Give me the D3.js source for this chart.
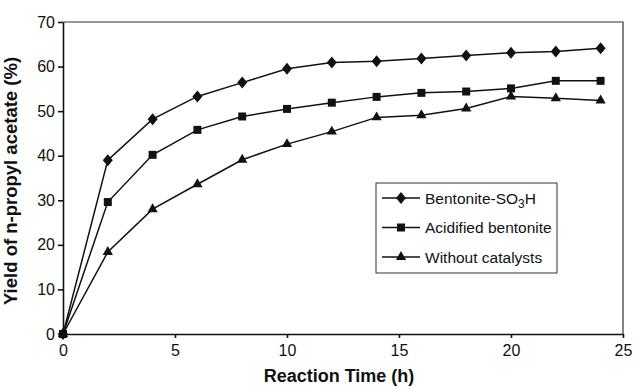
<!DOCTYPE html>
<html>
<head>
<meta charset="utf-8">
<script src="https://cdn.jsdelivr.net/npm/d3@7"></script>
<style>
  body { margin: 0; background: #fff; }
  svg { font-family: "Liberation Sans", Arial, sans-serif; }
  .tick text { font-size: 16px; fill: #111; }
  .domain, .tick line { stroke: #111; }
</style>
</head>
<body>
<div id="chart"></div>
<script>
// reaction time (h)
let times = [0, 2, 4, 6, 8, 10, 12, 14, 16, 18, 20, 22, 24];
// yield of n-propyl acetate (%)
let bentoniteSO3H = [0, 39.0, 48.2, 53.3, 56.4, 59.5, 60.9, 61.2, 61.8, 62.5, 63.1, 63.4, 64.1];
let acidifiedBentonite = [0, 29.6, 40.2, 45.8, 48.8, 50.5, 51.9, 53.2, 54.1, 54.4, 55.1, 56.8, 56.8];
let withoutCatalysts = [0, 18.4, 28.0, 33.6, 39.1, 42.6, 45.4, 48.6, 49.1, 50.6, 53.3, 52.9, 52.4];
let xTicks = [0, 5, 10, 15, 20, 25];
let yTicks = [0, 10, 20, 30, 40, 50, 60, 70];

let width = 633, height = 389;
let margin = {top: 22, right: 10, bottom: 55, left: 63};
let w = width - margin.left - margin.right;
let h = height - margin.top - margin.bottom;

// diamond a bit wider than d3's default one
let wideDiamond = {
    draw: function(ctx, size) {
        let r = Math.sqrt(size) / 2;
        ctx.moveTo(0, -r * 1.2);
        ctx.lineTo(r, 0);
        ctx.lineTo(0, r * 1.2);
        ctx.lineTo(-r, 0);
        ctx.closePath();
    }
};

let series = [
    {name: 'Bentonite-SO3H', values: bentoniteSO3H, symbol: d3.symbol(wideDiamond, 100)},
    {name: 'Acidified bentonite', values: acidifiedBentonite, symbol: d3.symbol(d3.symbolSquare, 64)},
    {name: 'Without catalysts', values: withoutCatalysts, symbol: d3.symbol(d3.symbolTriangle, 46)}
];

let svg = d3.select('#chart').append('svg')
    .attr('width', width)
    .attr('height', height);

let g = svg.append('g')
    .attr('transform', 'translate(' + margin.left + ',' + margin.top + ')');

let x = d3.scaleLinear().domain([0, 25]).range([0, w]);
let y = d3.scaleLinear().domain([0, 70]).range([h, 0]);

// frame top / right
g.append('path')
    .attr('d', 'M0,0H' + w + 'V' + h)
    .attr('fill', 'none')
    .attr('stroke', '#333')
    .attr('stroke-width', 1.2);

// x axis
g.append('g')
    .attr('transform', 'translate(0,' + h + ')')
    .call(d3.axisBottom(x).tickValues(xTicks).tickSize(4).tickSizeOuter(0).tickPadding(7))
    .call(a => a.selectAll('.domain, .tick line').attr('stroke-width', 1.6));

// y axis
g.append('g')
    .call(d3.axisLeft(y).tickValues(yTicks).tickSize(5).tickSizeOuter(0).tickPadding(3))
    .call(a => a.selectAll('.domain, .tick line').attr('stroke-width', 1.6));

// axis titles
svg.append('text')
    .attr('x', margin.left + w / 2 - 4)
    .attr('y', 382)
    .attr('text-anchor', 'middle')
    .attr('font-size', '18px')
    .attr('font-weight', 'bold')
    .attr('fill', '#111')
    .text('Reaction Time (h)');

svg.append('text')
    .attr('transform', 'translate(17,' + 181 + ') rotate(-90)')
    .attr('text-anchor', 'middle')
    .attr('font-size', '18.5px')
    .attr('font-weight', 'bold')
    .attr('fill', '#111')
    .text('Yield of n-propyl acetate (%)');

// define the line
let line = d3.line()
    .x(function(d, i) { return x(times[i]); })
    .y(function(d) { return y(d); });

series.forEach(function(s) {
    g.append('path')
        .datum(s.values)
        .attr('fill', 'none')
        .attr('stroke', '#111')
        .attr('stroke-width', 1.5)
        .attr('d', line);

    g.selectAll(null)
        .data(s.values)
        .enter().append('path')
        .attr('transform', function(d, i) { return 'translate(' + x(times[i]) + ',' + y(d) + ')'; })
        .attr('d', s.symbol)
        .attr('fill', '#111');
});

// legend
let legend = svg.append('g').attr('transform', 'translate(376,183)');
legend.append('rect')
    .attr('width', 181)
    .attr('height', 90)
    .attr('fill', '#fff')
    .attr('stroke', '#333')
    .attr('stroke-width', 1);

series.forEach(function(s, i) {
    let row = legend.append('g').attr('transform', 'translate(0,' + (15 + i * 29.5) + ')');
    row.append('line')
        .attr('x1', 6).attr('x2', 44)
        .attr('stroke', '#111').attr('stroke-width', 1.5);
    row.append('path')
        .attr('transform', 'translate(25,0)')
        .attr('d', s.symbol)
        .attr('fill', '#111');
    let t = row.append('text')
        .attr('x', 49)
        .attr('y', 5.5)
        .attr('font-size', '15.5px')
        .attr('fill', '#111');
    if (s.name === 'Bentonite-SO3H') {
        t.append('tspan').text('Bentonite-SO');
        t.append('tspan').attr('dy', 4).attr('font-size', '12px').text('3');
        t.append('tspan').attr('dy', -4).text('H');
    } else {
        t.text(s.name);
    }
});
</script>
</body>
</html>
